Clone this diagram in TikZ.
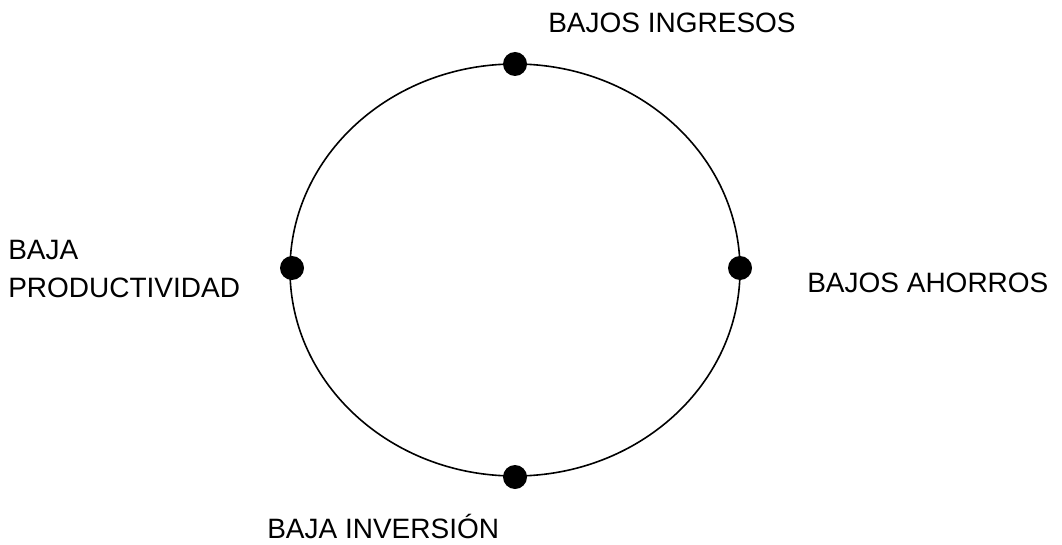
\documentclass[tikz,border=0pt]{standalone}
\usepackage{fontspec}
\setmainfont{Liberation Sans}
\begin{document}
\begin{tikzpicture}[x=0.75pt,y=-0.75pt,
  dot/.style={circle,fill=black,inner sep=0pt,minimum size=18pt},
  lbl/.style={inner sep=0pt,font=\fontsize{21pt}{28.5pt}\selectfont,align=left}]
\useasboundingbox (0,0) rectangle (1062,545);
\draw[line width=1.2pt] (515,270) ellipse [x radius=225, y radius=206];
\node[dot] (top) at (515,64) {};
\node[dot] (right) at (740,268) {};
\node[dot] (bottom) at (515,477) {};
\node[dot] (left) at (292,268) {};
\node[lbl,anchor=base west] (t1) at (548,33) {BAJOS INGRESOS};
\node[lbl,anchor=base west] (t2) at (807,292) {BAJOS AHORROS};
\node[lbl,anchor=base west] (t3) at (267,538) {BAJA INVERSIÓN};
\node[lbl,anchor=base west] (t4) at (8,259) {BAJA};
\node[lbl,anchor=base west] (t5) at (8,297) {PRODUCTIVIDAD};
\end{tikzpicture}
\end{document}
